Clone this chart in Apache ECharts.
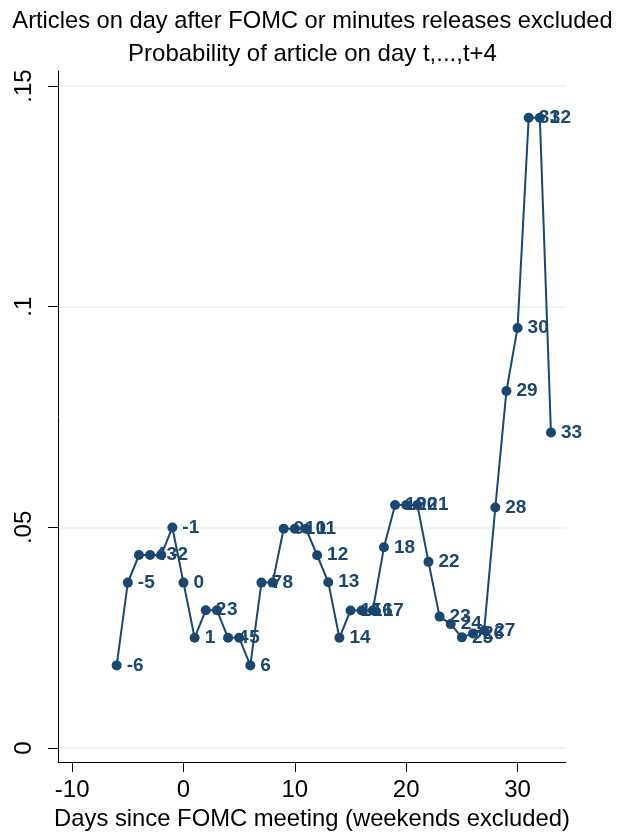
<!DOCTYPE html>
<html><head><meta charset="utf-8">
<script src="https://cdn.jsdelivr.net/npm/echarts@6/dist/echarts.min.js"></script>
<style>html,body{margin:0;padding:0;background:#fff}#c{width:625px;height:836px}</style>
</head><body><div id="c"></div>
<script>
const days = [-6,-5,-4,-3,-2,-1,0,1,2,3,4,5,6,7,8,9,10,11,12,13,14,15,16,17,18,19,20,21,22,23,24,25,26,27,28,29,30,31,32,33];
const probs = [0.01875,0.0375,0.04375,0.04375,0.04375,0.05,0.0375,0.025,0.03125,0.03125,0.025,0.025,0.01875,0.0375,0.0375,
  0.0497,0.0497,0.0497,0.0437,0.0376,0.025,0.0312,0.0312,0.0312,0.0455,0.0551,0.0551,0.0551,0.0422,0.0298,0.0281,0.0251,0.026,0.0267,
  0.0545,0.0809,0.0952,0.1428,0.1428,0.0715];
const xTicks = [-10,0,10,20,30];
const yTicks = [0,0.05,0.1,0.15];
const yTickLabels = ['0','.05','.1','.15'];
const titleText = 'Articles on day after FOMC or minutes releases excluded';
const subtitleText = 'Probability of article on day t,...,t+4';
const xTitle = 'Days since FOMC meeting (weekends excluded)';

const navy = '#1a476f';
const font = 'Liberation Sans, Arial, sans-serif';
const chart = echarts.init(document.getElementById('c'), null, {renderer:'canvas'});
chart.setOption({
  backgroundColor:'#fff',
  animation:false,
  title:[
    {text:titleText, left:'center', top:4, textStyle:{fontFamily:font,fontSize:23.7,fontWeight:'normal',color:'#000'}},
    {text:subtitleText, left:'center', top:37, textStyle:{fontFamily:font,fontSize:24,fontWeight:'normal',color:'#000'}}
  ],
  grid:{left:58,right:59,top:71,bottom:72,containLabel:false},
  xAxis:{
    type:'value', min:-11.27, max:34.35,
    axisLine:{show:true,onZero:false,lineStyle:{color:'#000',width:1}},
    axisTick:{show:true,length:10,customValues:xTicks,lineStyle:{color:'#000',width:1}},
    axisLabel:{customValues:xTicks,margin:16,fontFamily:font,fontSize:24,color:'#000'},
    splitLine:{show:false},
    name:xTitle, nameLocation:'middle', nameGap:40,
    nameTextStyle:{fontFamily:font,fontSize:23.8,color:'#000',verticalAlign:'top'}
  },
  yAxis:{
    type:'value', min:-0.00316, max:0.1534,
    axisLine:{show:true,onZero:false,lineStyle:{color:'#000',width:1}},
    axisTick:{show:true,length:10,customValues:yTicks,lineStyle:{color:'#000',width:1}},
    axisLabel:{customValues:yTicks,rotate:90,margin:22,fontFamily:font,fontSize:24,color:'#000',
      formatter:function(v){const i=yTicks.findIndex(t=>Math.abs(t-v)<1e-9);return i>=0?yTickLabels[i]:'';}},
    splitLine:{show:true,lineStyle:{color:'#eaf2f3',width:1.5}}
  },
  series:[{
    type:'line',
    data:days.map((d,i)=>[d,probs[i]]),
    symbol:'circle', symbolSize:10,
    itemStyle:{color:navy},
    lineStyle:{color:navy,width:2},
    label:{show:true,position:'right',distance:5,fontFamily:font,fontSize:19,fontWeight:'bold',color:navy,
      formatter:function(p){return String(p.value[0]);}}
  }]
});
</script></body></html>
